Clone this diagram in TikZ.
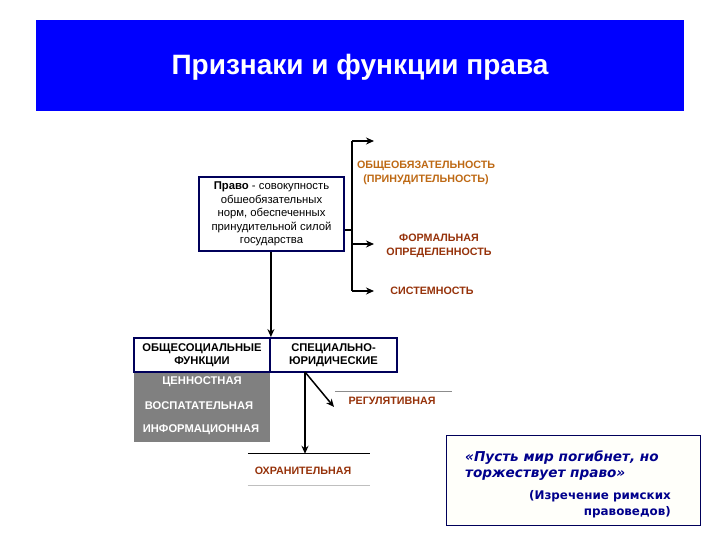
\documentclass[tikz,border=0pt]{standalone}
\usepackage{fontspec}
\setmainfont{Liberation Sans}
\newfontfamily\quotefont{DejaVu Sans}
\usetikzlibrary{arrows.meta}
\definecolor{titleblue}{RGB}{0,0,255}
\definecolor{navy}{RGB}{0,0,90}
\definecolor{labbrown}{RGB}{150,50,10}
\definecolor{laborange}{RGB}{190,105,20}
\definecolor{quoteblue}{RGB}{0,0,140}
\definecolor{funcgray}{RGB}{128,128,128}
\begin{document}
\begin{tikzpicture}[x=1pt,y=-1pt,
  arr/.style={-{Stealth[length=8pt,width=7pt]}, line width=1.5pt},
  ln/.style={line width=1.5pt},
  capslab/.style={font=\bfseries\fontsize{10.7}{14}\selectfont, align=center, inner sep=0pt},
  graylab/.style={text=white, font=\bfseries\fontsize{11.2}{13}\selectfont},
  funclab/.style={draw=navy, line width=1.8pt, minimum height=34pt, inner sep=0pt, align=center, font=\bfseries\fontsize{11.2}{13}\selectfont}
]
\useasboundingbox (0,0) rectangle (720,540);
\fill[white] (0,0) rectangle (720,540);
% banner
\node[fill=titleblue, minimum width=648pt, minimum height=91pt, inner sep=0pt, anchor=north west] (banner) at (36,20) {};
\node[text=white, font=\bfseries\fontsize{28}{32}\selectfont] (title) at (360,67) {Признаки и функции права};
% definition box
\node[draw=navy, line width=2.2pt, minimum width=145pt, minimum height=74pt, inner sep=0pt, align=center,
      font=\fontsize{11.3}{13.5}\selectfont] (pravo) at (271.5,214)
  {\textbf{Право} - совокупность\\обшеобязательных\\норм, обеспеченных\\принудительной силой\\государства};
% branch to features
\coordinate (j1) at (352,230);
\coordinate (jt) at (352,141);
\coordinate (jm) at (352,244);
\coordinate (jb) at (352,291);
\coordinate (et) at (374,141);
\coordinate (em) at (374,244);
\coordinate (eb) at (374,291);
\draw[ln] (pravo.east |- j1) -- (j1);
\draw[ln] (jt) -- (jb);
\draw[arr] (jt) -- (et);
\draw[arr] (jm) -- (em);
\draw[arr] (jb) -- (eb);
\node[capslab, text=laborange] (obsh) at (426,173) {ОБЩЕОБЯЗАТЕЛЬНОСТЬ\\(ПРИНУДИТЕЛЬНОСТЬ)};
\node[capslab, text=labbrown] (form) at (439,246) {ФОРМАЛЬНАЯ\\ОПРЕДЕЛЕННОСТЬ};
\node[capslab, text=labbrown] (sist) at (432,291) {СИСТЕМНОСТЬ};
% functions
\node[funclab, minimum width=136pt] (fobsh) at (202,355) {ОБЩЕСОЦИАЛЬНЫЕ\\ФУНКЦИИ};
\node[funclab, minimum width=127pt] (fspec) at (333.5,355) {СПЕЦИАЛЬНО-\\ЮРИДИЧЕСКИЕ};
\draw[arr] (pravo.south -| fobsh.east) -- (fobsh.north east);
\node[fill=funcgray, minimum width=136pt, minimum height=69pt, inner sep=0pt, anchor=north] (gray) at (fobsh.south) {};
\node[graylab] (cen) at (202,382) {ЦЕННОСТНАЯ};
\node[graylab] (vos) at (199,406) {ВОСПАТАТЕЛЬНАЯ};
\node[graylab] (inf) at (201,430) {ИНФОРМАЦИОННАЯ};
% special functions
\coordinate (sp) at (305,372);
\node[minimum width=122pt, minimum height=31pt, inner sep=0pt] (ohr) at (309,469.5) {};
\node[capslab, text=labbrown] (ohrt) at (303,471) {ОХРАНИТЕЛЬНАЯ};
\draw[line width=0.8pt] (ohr.north west) -- (ohr.north east);
\draw[line width=1pt, black!25] (ohr.south west) -- (ohr.south east);
\node[minimum width=117pt, minimum height=28pt, inner sep=0pt] (reg) at (393.5,406) {};
\node[capslab, text=labbrown] (regt) at (392,401) {РЕГУЛЯТИВНАЯ};
\draw[line width=0.8pt, black!45] (reg.north west) -- (reg.north east);
\draw[arr] (sp) -- (sp |- ohr.north);
\draw[arr] (sp) -- (334,407);
% quote
\node[draw=navy, line width=0.9pt, fill={rgb,255:red,255;green,255;blue,250}, minimum width=254pt, minimum height=90pt, inner sep=0pt] (quote) at (573,480) {};
\node[text=quoteblue, font=\quotefont\bfseries\itshape\fontsize{13.6}{16}\selectfont, align=left, anchor=north west, inner sep=0pt] (qt) at (465,451) {«Пусть мир погибнет, но\\торжествует право»};
\node[text=quoteblue, font=\quotefont\bfseries\fontsize{11.9}{16}\selectfont, align=right, anchor=north east, inner sep=0pt] (qs) at (671,490) {(Изречение римских\\правоведов)};
\end{tikzpicture}
\end{document}
